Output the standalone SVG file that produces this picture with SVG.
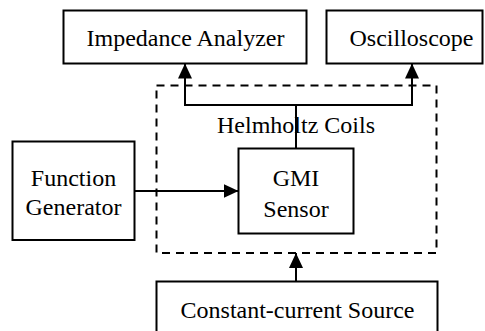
<svg xmlns="http://www.w3.org/2000/svg" width="485" height="331" viewBox="0 0 485 331">
<style>
.box{fill:#fff;stroke:#000;stroke-width:2}
.dash{fill:none;stroke:#000;stroke-width:2;stroke-dasharray:8 6}
.t{font-family:'Liberation Serif','Times New Roman',Times,'DejaVu Serif',serif;font-size:24px;fill:#000;text-anchor:middle}
.c{fill:none;stroke:#000;stroke-width:2}
</style>
<defs>
<marker id="ah" viewBox="0 0 15 14" refX="15" refY="7" markerWidth="15" markerHeight="14" orient="auto" markerUnits="userSpaceOnUse">
<path d="M0,0 L15,7 L0,14 z" fill="#000"/>
</marker>
</defs>
<g id="helmholtz">
<rect class="dash" x="156.5" y="85.5" width="280" height="167.5"/>
<text class="t" x="296" y="133" font-family="Liberation Serif, serif">Helmholtz Coils</text>
</g>
<g id="connectors">
<path class="c" d="M296,148.5 V105 M185,105 H412"/>
<path class="c" d="M185,106 V63.5" marker-end="url(#ah)"/>
<path class="c" d="M412,106 V63.5" marker-end="url(#ah)"/>
<path class="c" d="M134.5,191 H238.5" marker-end="url(#ah)"/>
<path class="c" d="M296,281.5 V253" marker-end="url(#ah)"/>
</g>
<g id="impedance">
<rect class="box" x="63.5" y="10.5" width="243" height="53"/>
<text class="t" x="185.5" y="46">Impedance Analyzer</text>
</g>
<g id="oscilloscope">
<rect class="box" x="326.5" y="10.5" width="156" height="53"/>
<text class="t" x="411.5" y="46">Oscilloscope</text>
</g>
<g id="function-generator">
<rect class="box" x="12.5" y="141.5" width="122" height="98.5"/>
<text class="t" x="73.5" y="186">Function</text>
<text class="t" x="73.5" y="215">Generator</text>
</g>
<g id="gmi-sensor">
<rect class="box" x="238.5" y="148.5" width="115" height="85"/>
<text class="t" x="296" y="186">GMI</text>
<text class="t" x="296" y="217">Sensor</text>
</g>
<g id="constant-current">
<rect class="box" x="156.5" y="281.5" width="281" height="60"/>
<text class="t" x="297.5" y="318">Constant-current Source</text>
</g>
</svg>
